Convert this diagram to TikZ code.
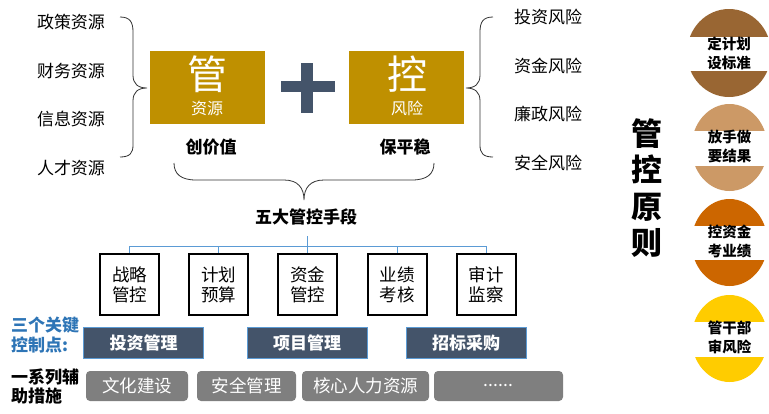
\documentclass[tikz,border=0pt]{standalone}
\usepackage{fontspec}
\setmainfont{Noto Sans CJK SC}
\definecolor{gold}{HTML}{BF9000}
\definecolor{slate}{HTML}{44546A}
\definecolor{treeblue}{HTML}{5B9BD5}
\definecolor{keyblue}{HTML}{2E75B6}
\definecolor{greybox}{HTML}{7F7F7F}
\definecolor{c1}{HTML}{996633}
\definecolor{c2}{HTML}{CC9966}
\definecolor{c3}{HTML}{CC6600}
\definecolor{c4}{HTML}{FFCC00}
\tikzset{
  sidetext/.style={font=\fontsize{17}{20}\selectfont, inner sep=0pt},
  boldtext/.style={font=\fontsize{17}{20}\selectfont\bfseries, inner sep=0pt},
  goldbox/.style={fill=gold, minimum width=115pt, minimum height=73pt, inner sep=0pt},
  bigchar/.style={text=white, font=\fontsize{40}{44}\selectfont, inner sep=0pt},
  smallchar/.style={text=white, font=\fontsize{16}{18}\selectfont, inner sep=0pt},
  brace/.style={draw=black!80, line width=0.8pt},
  tree/.style={draw=treeblue, line width=1pt},
  toolbox/.style={draw=black, line width=2pt, minimum width=59pt, minimum height=61pt, inner sep=0pt, align=center, font=\fontsize{17.5}{20}\selectfont},
  keybox/.style={fill=slate, draw=treeblue, line width=1pt, minimum width=120pt, minimum height=31pt, inner sep=0pt, text=white, font=\fontsize{17}{20}\selectfont\bfseries},
  auxbox/.style={fill=greybox, rounded corners=4pt, minimum height=30pt, inner sep=0pt, text=white, font=\fontsize{17.5}{20}\selectfont},
  circtext/.style={font=\fontsize{14.5}{19}\selectfont\bfseries, align=center, inner sep=0pt},
}
\begin{document}
\begin{tikzpicture}[x=1pt,y=-1pt]
\useasboundingbox (0,0) rectangle (769,413);

% left resources
\node[sidetext] (r1) at (71,22) {政策资源};
\node[sidetext] (r2) at (71,71) {财务资源};
\node[sidetext] (r3) at (71,119) {信息资源};
\node[sidetext] (r4) at (71,168) {人才资源};
\draw[brace] (120,17) .. controls (130,17) and (133,22) .. (133,32) -- (133,75)
  .. controls (133,84) and (138,88) .. (147,88)
  .. controls (138,88) and (133,92) .. (133,101) -- (133,145)
  .. controls (133,153) and (130,157) .. (120,157);

% guan box
\node[goldbox] (guan) at (207.5,87.5) {};
\node[bigchar] (guanc) at (207,74) {管};
\node[smallchar] (guans) at (207,108) {资源};
\node[boldtext] (cjz) at (211,147) {创价值};

% plus
\fill[slate] (281,81) rectangle (335,92);
\fill[slate] (301,63) rectangle (313,113);

% kong box
\node[goldbox] (kong) at (406.5,87.5) {};
\node[bigchar] (kongc) at (407,74) {控};
\node[smallchar] (kongs) at (407,108) {风险};
\node[boldtext] (bpw) at (405,147) {保平稳};

% right risks
\draw[brace] (493,17) .. controls (483,17) and (480,22) .. (480,32) -- (480,75)
  .. controls (480,84) and (475,88) .. (466,88)
  .. controls (475,88) and (480,92) .. (480,101) -- (480,145)
  .. controls (480,153) and (483,157) .. (493,157);
\node[sidetext] (k1) at (548,17) {投资风险};
\node[sidetext] (k2) at (548,66) {资金风险};
\node[sidetext] (k3) at (548,114) {廉政风险};
\node[sidetext] (k4) at (548,163) {安全风险};

% bottom brace
\draw[brace] (174,163) .. controls (174,174) and (181,180) .. (196,180) -- (284,180)
  .. controls (298,180) and (304,188) .. (304,200)
  .. controls (304,188) and (310,180) .. (324,180) -- (412,180)
  .. controls (427,180) and (434,174) .. (434,163);

\node[boldtext] (five) at (306,217) {五大管控手段};

% tree
\node[toolbox] (t1) at (129.5,284.5) {战略\\管控};
\node[toolbox] (t2) at (218.5,284.5) {计划\\预算};
\node[toolbox] (t3) at (307.5,284.5) {资金\\管控};
\node[toolbox] (t4) at (397,284.5) {业绩\\考核};
\node[toolbox] (t5) at (486,284.5) {审计\\监察};
\coordinate (top) at (307.5,236);
\coordinate (hub) at (307.5,246);
\draw[tree] (top) -- (hub);
\foreach \t in {t1,t2,t3,t4,t5}{ \draw[tree] (hub) -| (\t.north); }

% key control points
\node[anchor=west, align=left, inner sep=0pt, text=keyblue, font=\fontsize{17}{20}\selectfont\bfseries] (keylbl) at (11,335) {三个关键\\控制点:};
\node[keybox] (kb1) at (143.5,343) {投资管理};
\node[keybox] (kb2) at (307,343) {项目管理};
\node[keybox] (kb3) at (466,343) {招标采购};

% auxiliary
\node[anchor=west, align=left, inner sep=0pt, font=\fontsize{17}{19}\selectfont\bfseries] (auxlbl) at (11,386) {一系列辅\\助措施};
\node[auxbox, minimum width=102pt] (a1) at (137,386) {文化建设};
\node[auxbox, minimum width=99pt] (a2) at (246.5,386) {安全管理};
\node[auxbox, minimum width=127pt] (a3) at (365.5,386) {核心人力资源};
\node[auxbox, minimum width=129pt] (a4) at (498.5,386) {......};

% principles
\node[align=center, inner sep=0pt, font=\fontsize{31}{36.5}\selectfont\bfseries] (gkyz) at (647,188) {管\\控\\原\\则};

\fill[c1] (729,53) ellipse [x radius=42pt, y radius=44pt];
\fill[white] (680,37) rectangle (769,71);
\node[circtext] (p1) at (729,53) {定计划\\设标准};

\fill[c2] (729.5,147.5) ellipse [x radius=38pt, y radius=43.5pt];
\fill[white] (680,131) rectangle (769,166);
\node[circtext] (p2) at (729.5,146.5) {放手做\\要结果};

\fill[c3] (729.5,242.5) ellipse [x radius=38pt, y radius=43.5pt];
\fill[white] (680,226) rectangle (769,260);
\node[circtext] (p3) at (729.5,241) {控资金\\考业绩};

\fill[c4] (729.5,338.5) ellipse [x radius=38pt, y radius=43.5pt];
\fill[white] (680,322) rectangle (769,357);
\node[circtext] (p4) at (729.5,337.5) {管干部\\审风险};
\end{tikzpicture}
\end{document}
